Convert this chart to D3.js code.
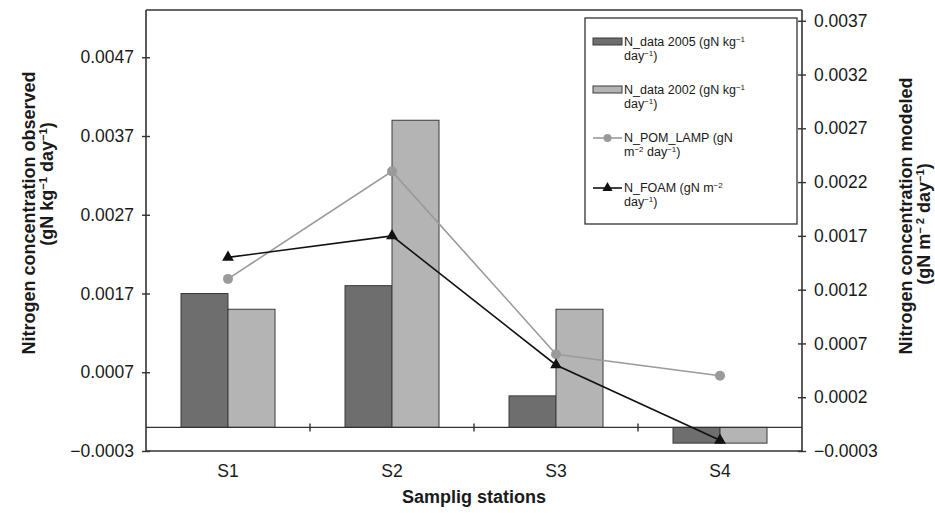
<!DOCTYPE html>
<html><head><meta charset="utf-8">
<script src="https://cdn.jsdelivr.net/npm/d3@7"></script>
<style>
body{margin:0;background:#fff;}
text{font-family:"Liberation Sans",Arial,sans-serif;fill:#1a1a1a;}
</style></head>
<body>
<svg id="chart" width="935" height="513"></svg>
<script>
// ---- data ----
const categories = ["S1","S2","S3","S4"];
const nData2005 = [0.0017, 0.0018, 0.0004, -0.0002];
const nData2002 = [0.0015, 0.0039, 0.0015, -0.0002];
const nPomLamp  = [0.0013, 0.0023, 0.0006, 0.0004];
const nFoam     = [0.0015, 0.0017, 0.0005, -0.0002];
const leftTicks  = [-0.0003, 0.0007, 0.0017, 0.0027, 0.0037, 0.0047];
const rightTicks = [-0.0003, 0.0002, 0.0007, 0.0012, 0.0017, 0.0022, 0.0027, 0.0032, 0.0037];
const leftDomain  = [-0.0003, 0.0053];
const rightDomain = [-0.0003, 0.0038];

// ---- layout ----
const L = 146, R = 802, T = 10, B = 451;
const svg = d3.select("#chart");
const fmt = d3.format(".4f");
const yL = d3.scaleLinear().domain(leftDomain).range([B, T]);
const yR = d3.scaleLinear().domain(rightDomain).range([B, T]);
const x0 = d3.scaleBand().domain(categories).range([L, R]).padding(0);
const bw = x0.bandwidth();
const x1 = d3.scaleBand().domain(["2005","2002"]).range([bw/2 - 47, bw/2 + 47]).padding(0);
const frame = "#333";

// bars
const barSeries = [
  {key:"2005", vals:nData2005, fill:"#6e6e6e"},
  {key:"2002", vals:nData2002, fill:"#b4b4b4"}
];
barSeries.forEach(s => {
  svg.append("g").selectAll("rect").data(s.vals).join("rect")
    .attr("x", (d,i) => x0(categories[i]) + x1(s.key))
    .attr("width", x1.bandwidth())
    .attr("y", d => yL(Math.max(0,d)))
    .attr("height", d => Math.abs(yL(d) - yL(0)))
    .attr("fill", s.fill).attr("stroke", "#3a3a3a").attr("stroke-width", 1);
});

// frame
svg.append("line").attr("x1",L).attr("x2",R).attr("y1",T).attr("y2",T).attr("stroke",frame).attr("stroke-width",1.6);
svg.append("line").attr("x1",L).attr("x2",R).attr("y1",B).attr("y2",B).attr("stroke",frame).attr("stroke-width",1.6);
// zero line (category axis)
svg.append("line").attr("x1",L).attr("x2",R).attr("y1",yL(0)).attr("y2",yL(0)).attr("stroke",frame).attr("stroke-width",1.4);
// category tick marks
svg.append("g").selectAll("line").data(categories.slice(1)).join("line")
  .attr("x1", d => x0(d)).attr("x2", d => x0(d))
  .attr("y1", yL(0) - 4).attr("y2", yL(0) + 4)
  .attr("stroke", frame).attr("stroke-width", 1.4);

// left axis
const gl = svg.append("g").attr("transform", `translate(${L},0)`)
  .call(d3.axisLeft(yL).tickValues(leftTicks).tickFormat(fmt).tickSizeInner(4).tickSizeOuter(0).tickPadding(8));
gl.select(".domain").remove();
gl.append("line").attr("y1",T).attr("y2",B).attr("stroke",frame).attr("stroke-width",1.6);
gl.selectAll(".tick line").attr("x1",-4).attr("x2",4).attr("stroke",frame).attr("stroke-width",1.4);
gl.selectAll(".tick text").attr("x",-12).style("font-size","17.5px").style("font-family","Liberation Sans, Arial").attr("fill","#1a1a1a");

// right axis
const gr = svg.append("g").attr("transform", `translate(${R},0)`)
  .call(d3.axisRight(yR).tickValues(rightTicks).tickFormat(fmt).tickSizeInner(4).tickSizeOuter(0).tickPadding(8));
gr.select(".domain").remove();
gr.append("line").attr("y1",T).attr("y2",B).attr("stroke",frame).attr("stroke-width",1.6);
gr.selectAll(".tick line").attr("x1",-4).attr("x2",4).attr("stroke",frame).attr("stroke-width",1.4);
gr.selectAll(".tick text").attr("x",12).style("font-size","17.5px").style("font-family","Liberation Sans, Arial").attr("fill","#1a1a1a");

// category labels
svg.append("g").selectAll("text").data(categories).join("text")
  .attr("x", d => x0(d) + bw/2).attr("y", 477)
  .attr("text-anchor","middle").style("font-size","17.5px").text(d => d);

// lines
const cx = i => x0(categories[i]) + bw/2;
const lineGen = d3.line().x((d,i) => cx(i)).y(d => yR(d));
svg.append("path").datum(nPomLamp).attr("d", lineGen)
  .attr("fill","none").attr("stroke","#9a9a9a").attr("stroke-width",1.6);
svg.append("g").selectAll("circle").data(nPomLamp).join("circle")
  .attr("cx",(d,i)=>cx(i)).attr("cy",d=>yR(d)).attr("r",5).attr("fill","#9a9a9a");
svg.append("path").datum(nFoam).attr("d", lineGen)
  .attr("fill","none").attr("stroke","#111").attr("stroke-width",1.6);
const tri = d3.symbol().type(d3.symbolTriangle).size(60);
svg.append("g").selectAll("path").data(nFoam).join("path")
  .attr("transform",(d,i)=>`translate(${cx(i)},${yR(d)})`).attr("d",tri).attr("fill","#111");

// axis titles
function title(x, y, rot, parts, size, anchor) {
  const t = svg.append("text").attr("transform", `translate(${x},${y}) rotate(${rot})`)
    .attr("text-anchor", anchor || "middle").style("font-size", size+"px").style("font-weight","bold");
  parts.forEach(p => {
    const ts = t.append("tspan").text(p[0]);
    if (p[1] === "sup") ts.attr("baseline-shift","super").style("font-size",(size*0.62)+"px");
  });
  return t;
}
title(35, 213, -90, [["Nitrogen concentration observed"]], 18);
title(53, 184, -90, [["(gN kg"],["\u22121","sup"],["  day"],["\u22121","sup"],[")"]], 18);
title(912, 216, -90, [["Nitrogen concentration modeled"]], 18);
title(930, 224, -90, [["(gN m"],["\u2212 2","sup"],["  day"],["\u22121","sup"],[")"]], 18);
svg.append("text").attr("x",(L+R)/2).attr("y",503).attr("text-anchor","middle")
  .style("font-size","18px").style("font-weight","bold").text("Samplig stations");

// legend
const lg = svg.append("g");
lg.append("rect").attr("x",585).attr("y",18).attr("width",212).attr("height",206)
  .attr("fill","#fff").attr("stroke",frame).attr("stroke-width",1.3);
const legendItems = [
  {type:"bar", fill:"#6e6e6e", y:42, l1:[["N_data 2005 (gN kg"],["\u22121","sup"]], l2:[["day"],["\u22121","sup"],[")"]]},
  {type:"bar", fill:"#b4b4b4", y:90, l1:[["N_data 2002 (gN kg"],["\u22121","sup"]], l2:[["day"],["\u22121","sup"],[")"]]},
  {type:"circle", stroke:"#9a9a9a", y:138, l1:[["N_POM_LAMP (gN"]], l2:[["m"],["\u22122","sup"],[" day"],["\u22121","sup"],[")"]]},
  {type:"tri", stroke:"#111", y:188, l1:[["N_FOAM (gN m"],["\u22122","sup"]], l2:[["day"],["\u22121","sup"],[")"]]}
];
function ltext(x, y, parts) {
  const t = lg.append("text").attr("x",x).attr("y",y).style("font-size","12.5px");
  parts.forEach(p => {
    const ts = t.append("tspan").text(p[0]);
    if (p[1] === "sup") ts.attr("baseline-shift","super").style("font-size","8px");
  });
}
legendItems.forEach(it => {
  if (it.type === "bar") {
    lg.append("rect").attr("x",593).attr("y",it.y-4).attr("width",29).attr("height",7)
      .attr("fill",it.fill).attr("stroke","#3a3a3a").attr("stroke-width",1);
  } else {
    lg.append("line").attr("x1",593).attr("x2",622).attr("y1",it.y).attr("y2",it.y)
      .attr("stroke",it.stroke).attr("stroke-width",1.6);
    if (it.type === "circle") lg.append("circle").attr("cx",607.5).attr("cy",it.y).attr("r",4).attr("fill",it.stroke);
    else lg.append("path").attr("transform",`translate(607.5,${it.y})`).attr("d",d3.symbol().type(d3.symbolTriangle).size(45)).attr("fill",it.stroke);
  }
  ltext(624, it.y + 4, it.l1);
  ltext(624, it.y + 18, it.l2);
});
</script>
</body></html>
